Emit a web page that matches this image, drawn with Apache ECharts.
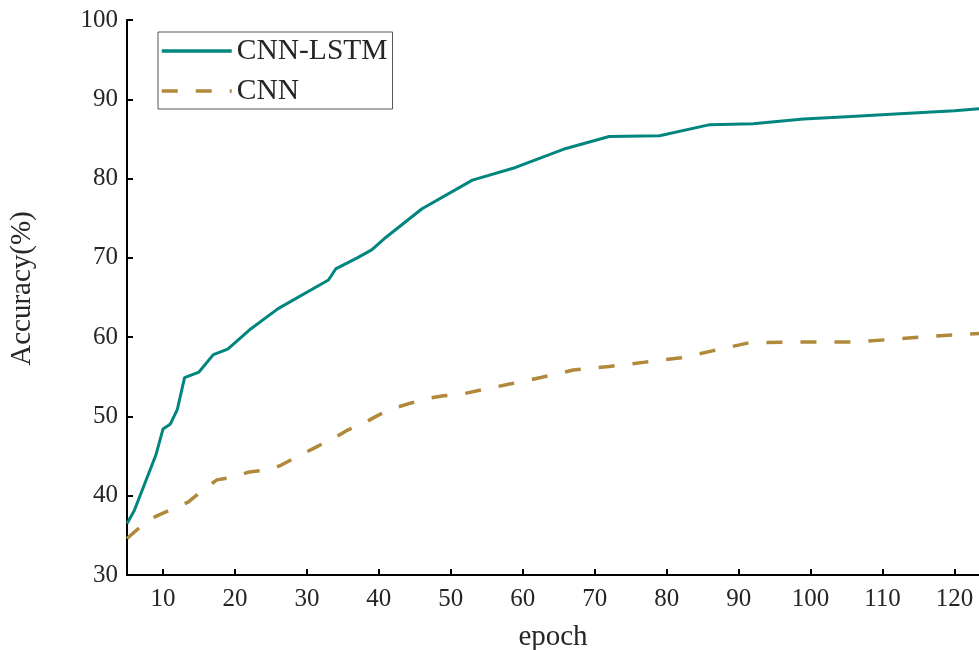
<!DOCTYPE html>
<html>
<head>
<meta charset="utf-8">
<title>Accuracy vs epoch</title>
<script src="https://cdn.jsdelivr.net/npm/echarts@6/dist/echarts.min.js"></script>
<style>
    html, body { margin: 0; padding: 0; background: #fff; }
    #chart { width: 979px; height: 650px; }
</style>
</head>
<body>
<div id="chart"></div>
<script>
// values, [epoch, accuracy %]
var cnnLstm = [
    [5, 36.5], [6, 38.1], [9, 45.1], [10, 48.4], [11, 49.0], [12, 50.9], [13, 54.9],
    [15, 55.6], [17, 57.8], [19, 58.5], [22, 60.9], [26, 63.6], [33, 67.2], [34, 68.6],
    [37, 70.0], [39, 71.0], [41, 72.6], [46, 76.2], [53, 79.8], [59, 81.4], [66, 83.8],
    [72, 85.3], [79, 85.4], [86, 86.8], [92, 86.9], [99, 87.5], [105, 87.8], [113, 88.2],
    [120, 88.55], [124, 88.85]
];
var cnn = [
    [5, 34.6], [7, 36.2], [9, 37.4], [11.5, 38.4], [13.5, 39.2], [15.5, 40.7], [17.5, 42.0],
    [20, 42.4], [22, 43.0], [25, 43.3], [26.5, 43.9], [29, 45.1], [31, 46.0], [34, 47.4],
    [35.5, 48.2], [38, 49.2], [40, 50.2], [42, 51.0], [44.5, 51.7], [47, 52.3], [49, 52.6],
    [52, 52.9], [54, 53.3], [58, 54.05], [62.5, 54.9], [67, 55.85], [72, 56.3], [77, 56.85],
    [82, 57.4], [86.5, 58.3], [88, 58.6], [91.5, 59.3], [101, 59.4], [106, 59.4], [111, 59.7],
    [116, 60.05], [121, 60.35], [124, 60.5]
];
var xTicks = [10, 20, 30, 40, 50, 60, 70, 80, 90, 100, 110, 120];
var seriesNames = ['CNN-LSTM', 'CNN'];

var serif = 'Liberation Serif';
var textColor = '#262626';

var chart = echarts.init(document.getElementById('chart'));

var option = {
    animation: false,
    grid: { left: 127, right: 0, top: 20, bottom: 75, containLabel: false, outerBoundsMode: 'none' },
    legend: {
        left: 158,
        top: 32,
        orient: 'vertical',
        data: seriesNames,
        itemWidth: 70,
        itemHeight: 14,
        itemGap: 10,
        padding: [4, 5, 3, 2],
        borderColor: '#555',
        borderWidth: 1,
        itemStyle: { opacity: 0 },
        lineStyle: { width: 3.5 },
        textStyle: { fontFamily: serif, fontSize: 29.5, color: textColor }
    },
    xAxis: {
        type: 'value',
        min: 5,
        max: 123.4,
        name: 'epoch',
        nameLocation: 'middle',
        nameGap: 48,
        nameTextStyle: { fontFamily: serif, fontSize: 29, color: textColor },
        axisLine: { lineStyle: { color: '#000', width: 2 } },
        axisTick: { inside: true, length: 6, lineStyle: { color: '#000', width: 2 }, customValues: xTicks },
        axisLabel: { fontFamily: serif, fontSize: 25, color: textColor, margin: 12, customValues: xTicks },
        splitLine: { show: false }
    },
    yAxis: {
        type: 'value',
        min: 30,
        max: 100,
        interval: 10,
        name: 'Accuracy(%)',
        nameLocation: 'middle',
        nameGap: 90,
        nameTextStyle: { fontFamily: serif, fontSize: 29, color: textColor, padding: [0, 0, 0, 18] },
        axisLine: { show: true, lineStyle: { color: '#000', width: 2 } },
        axisTick: { show: true, inside: true, length: 6, lineStyle: { color: '#000', width: 2 } },
        axisLabel: { fontFamily: serif, fontSize: 25, color: textColor, margin: 9 },
        splitLine: { show: false }
    },
    series: [
        {
            name: seriesNames[0],
            type: 'line',
            data: cnnLstm,
            symbol: 'none',
            color: '#00867f',
            lineStyle: { width: 3, color: '#00867f' }
        },
        {
            name: seriesNames[1],
            type: 'line',
            data: cnn,
            symbol: 'none',
            color: '#b0893a',
            lineStyle: { width: 3.5, color: '#b0893a', type: [16, 18] }
        }
    ]
};

chart.setOption(option);
</script>
</body>
</html>
